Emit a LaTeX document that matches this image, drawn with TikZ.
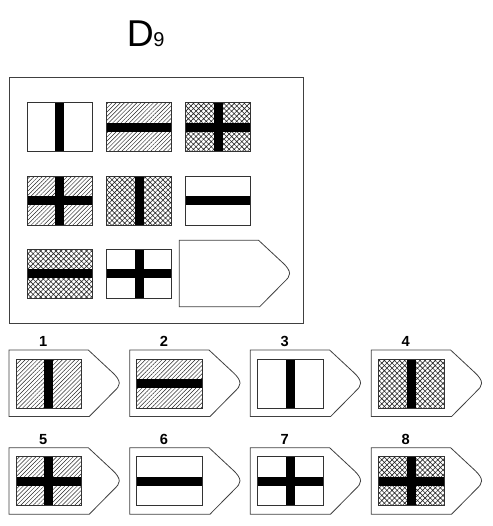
\documentclass[tikz,border=0pt]{standalone}
\usepackage{fontspec}
\setmainfont{Liberation Sans}
\usetikzlibrary{patterns.meta}
\tikzset{
  frame/.style={draw=black!75, line width=0.7pt},
  cellframe/.style={draw=black!80, line width=0.6pt},
  blankfill/.style={fill=white},
  hatchfill/.style={pattern={Lines[angle=45,distance=2.2pt,line width=0.35pt]}, pattern color=black!85},
  crossfill/.style={pattern={Hatch[angle=45,distance=2.7pt,line width=0.45pt]}, pattern color=black!85},
  vbarpic/.pic={\fill[black] (28.2,0) rectangle (37.2,49);},
  hbarpic/.pic={\fill[black] (0,20) rectangle (65.5,29);},
  nobarpic/.pic={},
  numlabel/.style={font=\bfseries\fontsize{11}{11}\selectfont, inner sep=0pt},
}
\newcommand\flagcell[4]{%
  \path[#3] (#1,#2) rectangle ++(65.5,49);
  \foreach \b in {#4} {\pic at (#1,#2) {\b barpic};}
  \draw[cellframe] (#1,#2) rectangle ++(65.5,49);
}
\newcommand\tagshape[2]{%
  \begin{scope}[shift={(#1,#2)}]
    \draw[frame, line width=0.6pt] (0,0) -- (79.3,0) -- (104,23)
      .. controls (107.5,26.3) and (110.3,30) .. (110.3,33.3)
      .. controls (110.3,36.5) and (108,38.5) .. (105,41.5)
      -- (80.3,66.5) -- (0,66.5) -- cycle;
  \end{scope}
}
\begin{document}
\begin{tikzpicture}[x=0.75pt,y=-0.75pt]
\useasboundingbox (0,0) rectangle (493,526);
% title
\node[anchor=base west, inner sep=0pt, font=\fontsize{28}{28}\selectfont] (title) at (126.6,46.7) {D};
\node[anchor=base west, inner sep=0pt, font=\fontsize{15}{15}\selectfont] (sub) at (153,46.7) {9};
% main box
\draw[frame] (9,77.3) rectangle (303,323);
% matrix
\flagcell{27}{102.7}{blankfill}{v}
\flagcell{106.3}{102.7}{hatchfill}{h}
\flagcell{185.3}{102.7}{crossfill}{v,h}
\flagcell{27}{176}{hatchfill}{v,h}
\flagcell{106.3}{176}{crossfill}{v}
\flagcell{185.3}{176}{blankfill}{h}
\flagcell{27}{249.3}{crossfill}{h}
\flagcell{106.3}{249.3}{blankfill}{v,h}
\tagshape{179.3}{240.3}
% answers row 1
\tagshape{9}{350}
\flagcell{16}{359}{hatchfill}{v}
\node[numlabel] (n1) at (43.3,341.5) {1};
\tagshape{129.7}{350}
\flagcell{136.7}{359}{hatchfill}{h}
\node[numlabel] (n2) at (164,341.5) {2};
\tagshape{250.3}{350}
\flagcell{257.7}{359}{blankfill}{v}
\node[numlabel] (n3) at (284.6,341.5) {3};
\tagshape{371.3}{350}
\flagcell{378.7}{359}{crossfill}{v}
\node[numlabel] (n4) at (405.6,341.5) {4};
% answers row 2
\tagshape{9}{447.7}
\flagcell{16}{456.7}{hatchfill}{v,h}
\node[numlabel] (n5) at (43.3,439.3) {5};
\tagshape{129.7}{447.7}
\flagcell{136.7}{456.7}{blankfill}{h}
\node[numlabel] (n6) at (164,439.3) {6};
\tagshape{250.3}{447.7}
\flagcell{257.7}{456.7}{blankfill}{v,h}
\node[numlabel] (n7) at (284.6,439.3) {7};
\tagshape{371.3}{447.7}
\flagcell{378.7}{456.7}{crossfill}{v,h}
\node[numlabel] (n8) at (405.6,439.3) {8};
\end{tikzpicture}
\end{document}
